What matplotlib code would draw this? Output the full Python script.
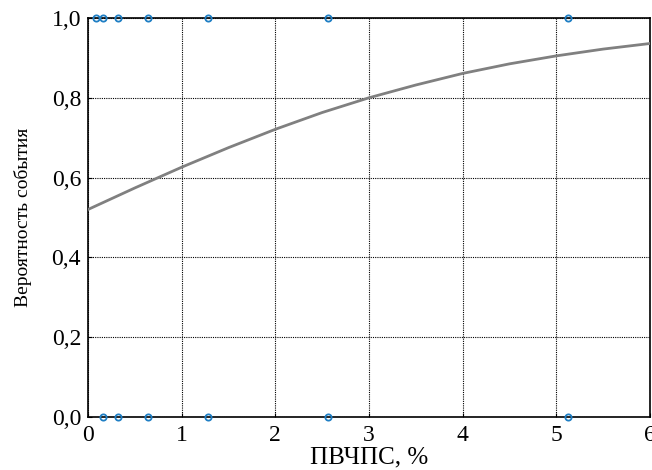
import numpy as np
import matplotlib
matplotlib.use("Agg")
import matplotlib.pyplot as plt

plt.rcParams['font.family'] = ['Liberation Serif', 'DejaVu Serif']

# observed events (1) and non-events (0)
x_yes = [0.08, 0.16, 0.32, 0.64, 1.28, 2.56, 5.12]
y_yes = [1.0, 1.0, 1.0, 1.0, 1.0, 1.0, 1.0]
x_no = [0.16, 0.32, 0.64, 1.28, 2.56, 5.12]
y_no = [0.0, 0.0, 0.0, 0.0, 0.0, 0.0]

# fitted probability curve
curve_x = [0.0, 0.5, 1.0, 1.5, 2.0, 2.5, 3.0, 3.5, 4.0, 4.5, 5.0, 5.5, 6.0]
curve_y = [0.520, 0.574, 0.626, 0.675, 0.721, 0.763, 0.800, 0.832, 0.861, 0.885, 0.905, 0.922, 0.936]

xticks = [0, 1, 2, 3, 4, 5, 6]
yticks = [0.0, 0.2, 0.4, 0.6, 0.8, 1.0]
ylabels = ['0,0', '0,2', '0,4', '0,6', '0,8', '1,0']

fig = plt.figure(figsize=(6.52, 4.70), dpi=100)
ax = fig.add_axes([0.135, 0.1128, 0.862, 0.849])

ax.plot(curve_x, curve_y, color='#808080', lw=2.0, zorder=3)
ax.plot(x_yes, y_yes, 'o', mfc='none', mec='#1f7fc4', mew=1.3, ms=4.5, clip_on=False, zorder=4)
ax.plot(x_no, y_no, 'o', mfc='none', mec='#1f7fc4', mew=1.3, ms=4.5, clip_on=False, zorder=4)

ax.set_xlim(0, 6)
ax.set_ylim(0, 1)
ax.set_xticks(xticks)
ax.set_xticklabels([str(t) for t in xticks])
ax.set_yticks(yticks)
ax.set_yticklabels(ylabels)
ax.grid(True, color='black', linestyle=(0, (1, 1)), linewidth=0.8)
ax.tick_params(direction='in', length=3, labelsize=17)
ax.tick_params(axis='x', pad=6)
ax.tick_params(axis='y', pad=5)
for s in ax.spines.values():
    s.set_linewidth(1.2)

ax.set_xlabel('ПВЧПС, %', fontsize=18, labelpad=0)
ax.set_ylabel('Вероятность события', fontsize=14, labelpad=14)

fig.savefig('out.png', dpi=100)
